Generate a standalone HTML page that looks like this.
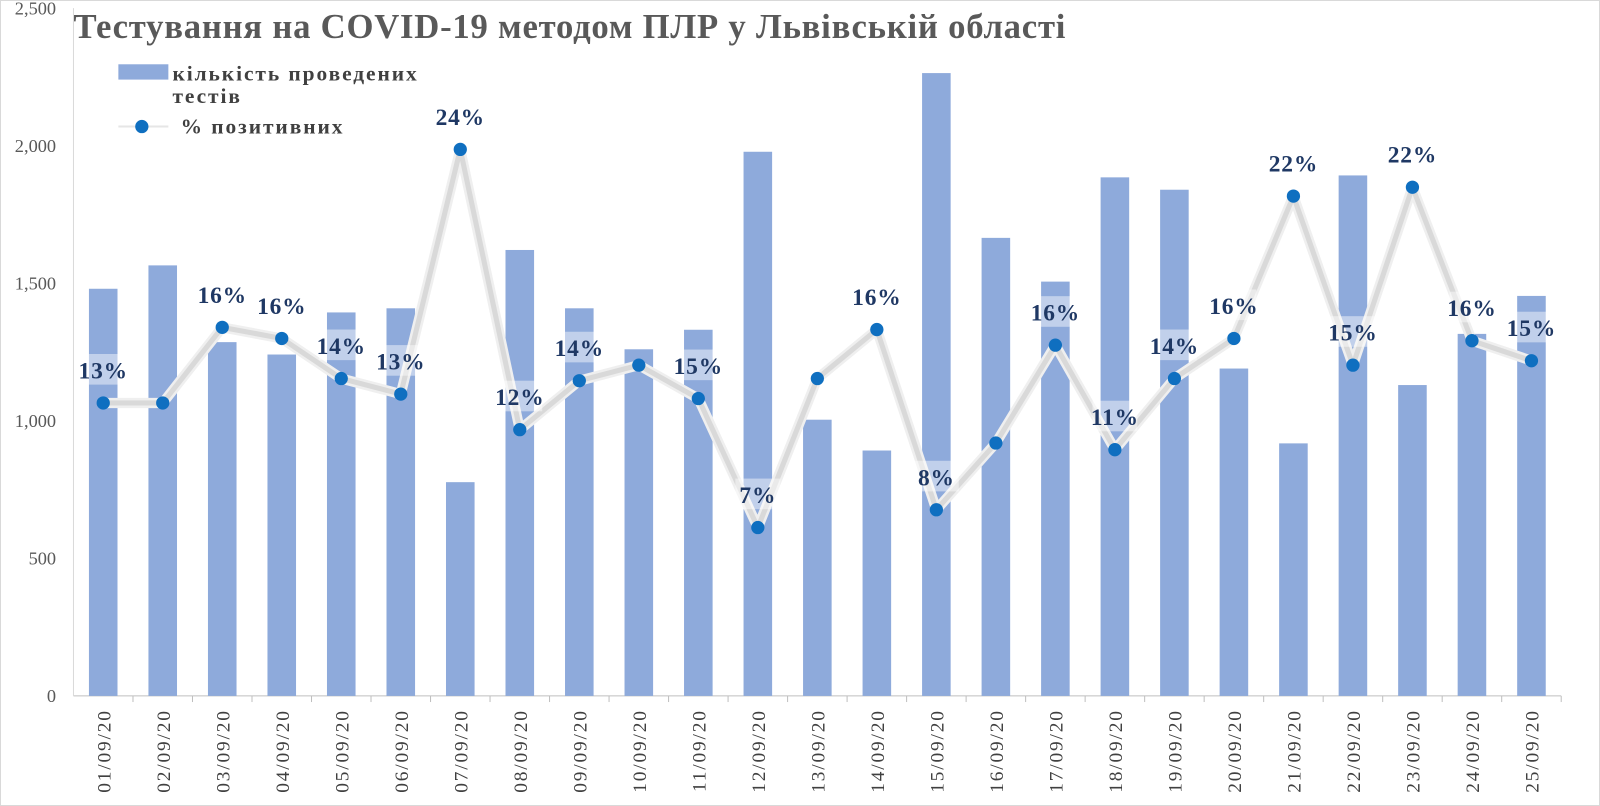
<!DOCTYPE html>
<html><head><meta charset="utf-8"><style>
body{margin:0;background:#fff}
svg{display:block;font-family:"Liberation Serif",serif}
</style></head><body>
<svg id="chart" width="1600" height="806" viewBox="0 0 1600 806">
<rect x="0.5" y="0.5" width="1599" height="805" fill="#fff" stroke="#d9d9d9"/>
<g transform="scale(1.0204)">
<text x="72" y="37" font-size="34" font-weight="bold" fill="#595959" letter-spacing="0.75">Тестування на COVID-19 методом ПЛР у Львівській області</text>
<g>
<rect x="116" y="63" width="49" height="15" fill="#8eaadb"/>
<text x="169" y="79" font-size="21" font-weight="bold" fill="#404040" letter-spacing="1.9">кількість проведених</text>
<text x="169" y="101" font-size="21" font-weight="bold" fill="#404040" letter-spacing="1.9">тестів</text>
<line x1="116" y1="124" x2="165" y2="124" stroke="#e6e6e6" stroke-width="2"/>
<circle cx="139" cy="124" r="6.5" fill="#0f6fc0"/>
<text x="177" y="131" font-size="21" font-weight="bold" fill="#404040" letter-spacing="1.9">% позитивних</text>
</g>
<g id="plot"></g>
</g>
</svg>
<script>
const categories=["01/09/20","02/09/20","03/09/20","04/09/20","05/09/20","06/09/20","07/09/20","08/09/20","09/09/20","10/09/20","11/09/20","12/09/20","13/09/20","14/09/20","15/09/20","16/09/20","17/09/20","18/09/20","19/09/20","20/09/20","21/09/20","22/09/20","23/09/20","24/09/20","25/09/20"];
const tests=[1480,1565,1286,1241,1394,1409,777,1621,1409,1260,1331,1978,1004,892,2264,1665,1506,1885,1840,1190,918,1892,1130,1316,1454];
const positive=[12.6,12.6,16.0,15.5,13.7,13.0,24.0,11.4,13.6,14.3,12.8,7.0,13.7,15.9,7.8,10.8,15.2,10.5,13.7,15.5,21.9,14.3,22.3,15.4,14.5];
const pctLabels=["13%","","16%","16%","14%","13%","24%","12%","14%","","15%","7%","","16%","8%","","16%","11%","14%","16%","22%","15%","22%","16%","15%"];
const yTicks=[0,500,1000,1500,2000,2500];
const yTickLabels=["0","500","1,000","1,500","2,000","2,500"];
const NS="http://www.w3.org/2000/svg";
const g=document.getElementById('plot');
const x0=72,x1=1530,y0=682,yTop=8;
const step=(x1-x0)/categories.length;
const xc=i=>x0+step*(i+0.5);
const yv=v=>y0-(v/2500)*(y0-yTop);
const yp=p=>517-(p-7)*21.8;
function mk(t,a){const e=document.createElementNS(NS,t);for(const k in a)e.setAttribute(k,a[k]);g.appendChild(e);return e;}
yTicks.forEach((v,i)=>{
 const t=mk('text',{x:55,y:yv(v)+6,'text-anchor':'end','font-size':18,fill:'#595959'});
 
 
 t.textContent=yTickLabels[i];
});
const ax=mk('line',{x1:x0,y1:y0,x2:x1,y2:y0,stroke:'#bfbfbf','stroke-width':1});


const ay=mk('line',{x1:x0,y1:yTop,x2:x0,y2:y0,stroke:'#d9d9d9','stroke-width':1});


tests.forEach((v,i)=>{
 const r=mk('rect',{x:xc(i)-14,y:yv(v),width:28,height:y0-yv(v),fill:'#8eaadb'});
 
 
 const tk=mk('line',{x1:x0+step*(i+1),y1:y0,x2:x0+step*(i+1),y2:y0+6,stroke:'#bfbfbf'});
 
 
 const t=mk('text',{transform:`translate(${xc(i)+7},${y0+13}) rotate(-90)`,'text-anchor':'end','font-size':19,'letter-spacing':1.8,fill:'#404040'});
 
 
 t.textContent=categories[i];
});
const pts=positive.map((p,i)=>xc(i)+','+yp(p)).join(' ');
const sh=mk('polyline',{points:pts,fill:'none',stroke:'#efefef','stroke-width':10,'stroke-linejoin':'round'});


const ln=mk('polyline',{points:pts,fill:'none',stroke:'#d9d9d9','stroke-width':5,'stroke-linejoin':'round'});


positive.forEach((p,i)=>{
 const c=mk('circle',{cx:xc(i),cy:yp(p),r:6.5,fill:'#0f6fc0'});
 
 
 if(pctLabels[i]){
  const b=mk('rect',{x:xc(i)-22,y:yp(p)-48,width:44,height:30,fill:'#ffffff','fill-opacity':0.45});
  
  
  const t=mk('text',{x:xc(i),y:yp(p)-24,'text-anchor':'middle','font-size':23,'letter-spacing':0.8,'font-weight':'bold',fill:'#1f3864'});
  
  
  t.textContent=pctLabels[i];
 }
});
</script>
</body></html>
